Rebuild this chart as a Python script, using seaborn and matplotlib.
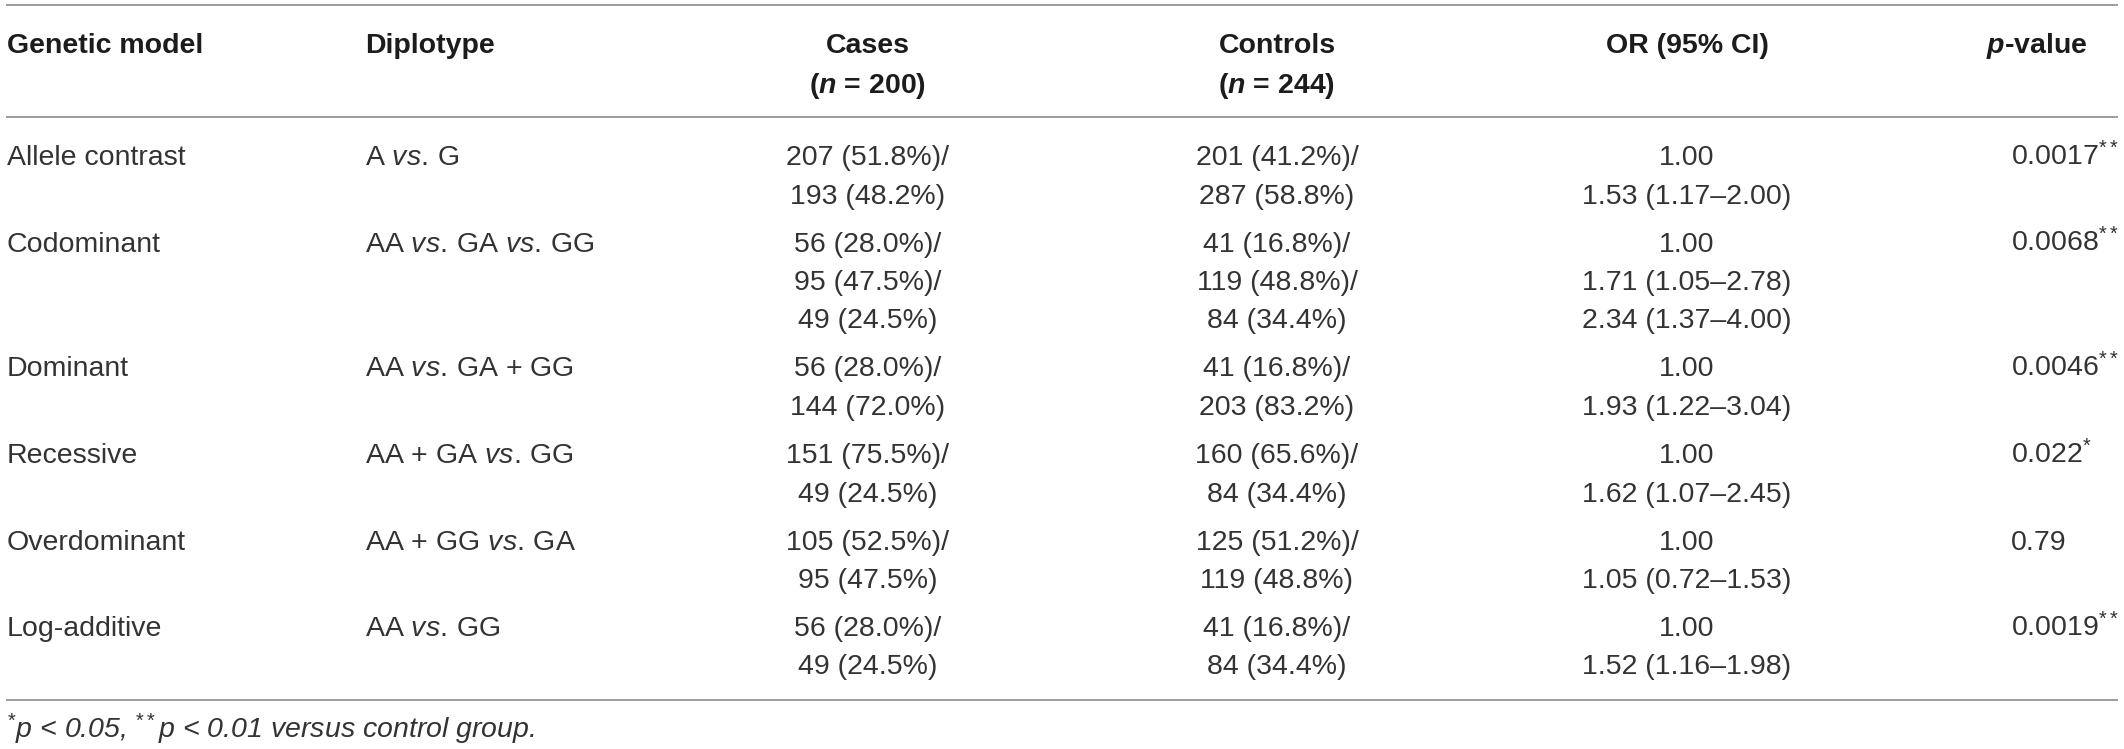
import matplotlib
matplotlib.use("Agg")
import matplotlib.pyplot as plt
import seaborn as sns

# Table content
models = ["Allele contrast", "Codominant", "Dominant", "Recessive",
          "Overdominant", "Log-additive"]
diplotypes = ["A vs. G", "AA vs. GA vs. GG", "AA vs. GA + GG",
              "AA + GA vs. GG", "AA + GG vs. GA", "AA vs. GG"]
cases = [["207 (51.8%)/", "193 (48.2%)"],
         ["56 (28.0%)/", "95 (47.5%)/", "49 (24.5%)"],
         ["56 (28.0%)/", "144 (72.0%)"],
         ["151 (75.5%)/", "49 (24.5%)"],
         ["105 (52.5%)/", "95 (47.5%)"],
         ["56 (28.0%)/", "49 (24.5%)"]]
controls = [["201 (41.2%)/", "287 (58.8%)"],
            ["41 (16.8%)/", "119 (48.8%)/", "84 (34.4%)"],
            ["41 (16.8%)/", "203 (83.2%)"],
            ["160 (65.6%)/", "84 (34.4%)"],
            ["125 (51.2%)/", "119 (48.8%)"],
            ["41 (16.8%)/", "84 (34.4%)"]]
odds = [["1.00", "1.53 (1.17–2.00)"],
        ["1.00", "1.71 (1.05–2.78)", "2.34 (1.37–4.00)"],
        ["1.00", "1.93 (1.22–3.04)"],
        ["1.00", "1.62 (1.07–2.45)"],
        ["1.00", "1.05 (0.72–1.53)"],
        ["1.00", "1.52 (1.16–1.98)"]]
p_values = ["0.0017", "0.0068", "0.0046", "0.022", "0.79", "0.0019"]
p_marks = ["**", "**", "**", "*", "", "**"]

footnote = r"$^{*}$p < 0.05, $^{**}$p < 0.01 versus control group."

sns.set_theme(style="white")
plt.rcParams["font.family"] = ["Liberation Sans", "DejaVu Sans"]
plt.rcParams["mathtext.fontset"] = "custom"
plt.rcParams["mathtext.rm"] = "Liberation Sans"
plt.rcParams["mathtext.it"] = "Liberation Sans:italic"
plt.rcParams["mathtext.bf"] = "Liberation Sans:bold"
plt.rcParams["mathtext.bfit"] = "Liberation Sans:italic:bold"

W, H = 2124, 749
fig = plt.figure(figsize=(W / 100, H / 100), dpi=100)
ax = fig.add_axes([0, 0, 1, 1])
ax.set_xlim(0, W)
ax.set_ylim(H, 0)
ax.axis("off")

fs = 20.5
body = "#333333"
head = "#1c1c1c"
cap = 10  # half cap height in px, used to go from centre to baseline

# rules
ax.hlines([5, 117, 700], 6, 2118, color="#9c9c9c", lw=1.4)

# column anchors
x_model, x_dip, x_cases, x_ctrl, x_or = 7, 365, 868, 1277, 1687
x_phead, x_pval = 2087, 2011

# header
hy1, hy2 = 43 + cap, 83 + cap
hkw = dict(fontsize=fs, fontweight="bold", color=head, va="baseline")
ax.text(x_model, hy1, "Genetic model", ha="left", **hkw)
ax.text(x_dip, hy1, "Diplotype", ha="left", **hkw)
ax.text(x_cases, hy1, "Cases", ha="center", **hkw)
ax.text(x_cases, hy2, r"($\mathbfit{n}$ = 200)", ha="center", **hkw)
ax.text(x_ctrl, hy1, "Controls", ha="center", **hkw)
ax.text(x_ctrl, hy2, r"($\mathbfit{n}$ = 244)", ha="center", **hkw)
ax.text(x_or, hy1, "OR (95% CI)", ha="center", **hkw)
ax.text(x_phead, hy1, r"$\mathbfit{p}$-value", ha="right", **hkw)

# body rows
bkw = dict(fontsize=fs, color=body, va="baseline")
pitch, gap = 38.5, 9.5
y = 155
for i, model in enumerate(models):
    base = y + cap
    ax.text(x_model, base, model, ha="left", **bkw)
    ax.text(x_dip, base, diplotypes[i].replace("vs.", r"$\mathit{vs.}\!$"),
            ha="left", **bkw)
    for k, s in enumerate(cases[i]):
        ax.text(x_cases, base + k * pitch, s, ha="center", **bkw)
    for k, s in enumerate(controls[i]):
        ax.text(x_ctrl, base + k * pitch, s, ha="center", **bkw)
    for k, s in enumerate(odds[i]):
        ax.text(x_or, base + k * pitch, s, ha="center", **bkw)
    ptxt = p_values[i] + (r"$^{%s}$" % p_marks[i] if p_marks[i] else "")
    ax.text(x_pval, base, ptxt, ha="left", **bkw)
    n = max(len(cases[i]), len(controls[i]), len(odds[i]))
    y += n * pitch + gap

# footnote
ax.text(x_model, 728 + cap, footnote, ha="left", fontsize=fs,
        fontstyle="italic", color=body, va="baseline")

fig.savefig("out.png", dpi=100, facecolor="white")
